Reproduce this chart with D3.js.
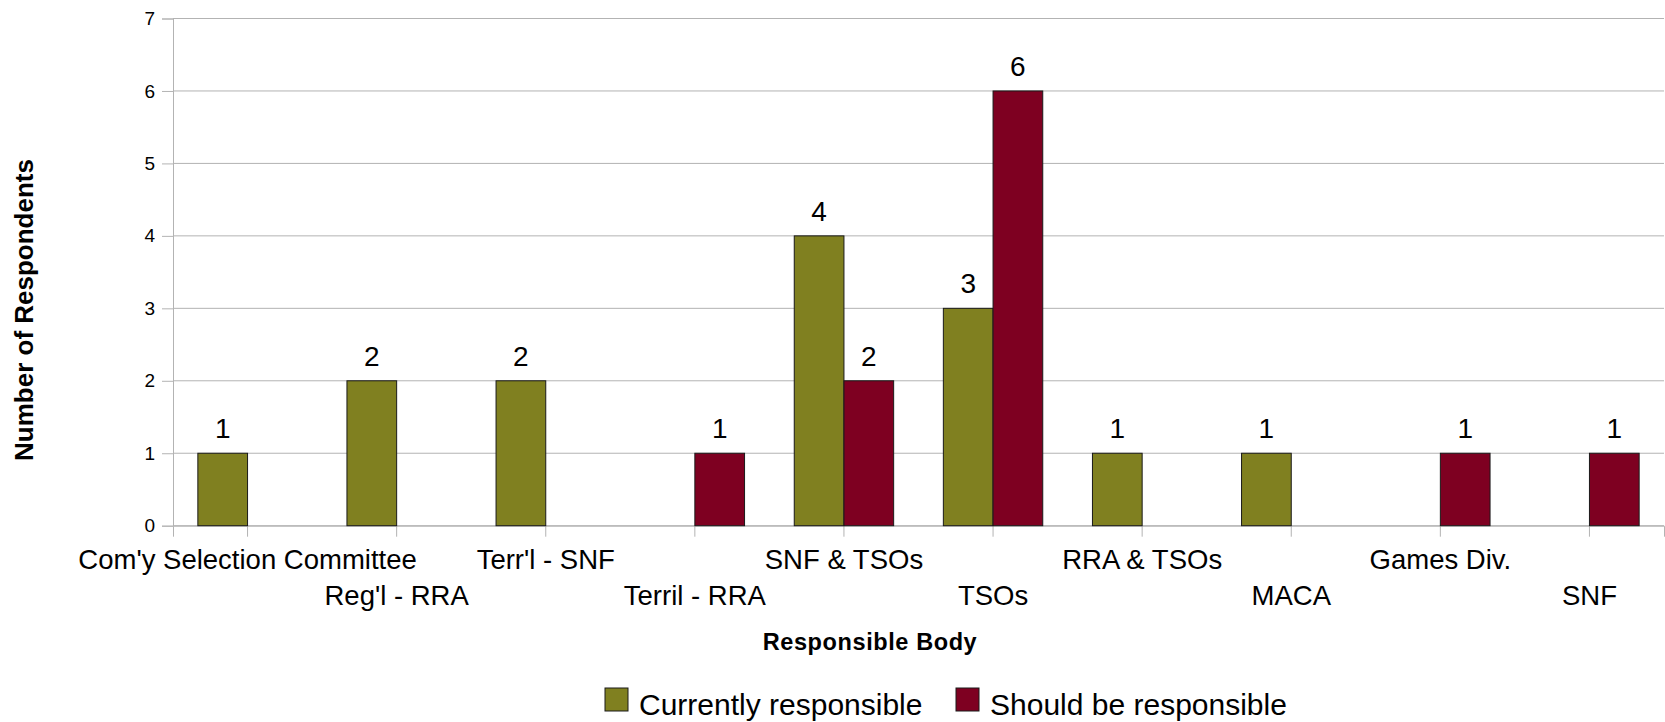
<!DOCTYPE html>
<html>
<head>
<meta charset="utf-8">
<script src="https://cdn.jsdelivr.net/npm/d3@7"></script>
<style>
  body { margin: 0; background: #fff; }
  text { font-family: "Liberation Sans", Arial, sans-serif; fill: #000; }
</style>
</head>
<body>
<div class="chart"></div>
<script>
// data
var categories = ["Com'y Selection Committee", "Reg'l - RRA", "Terr'l - SNF", "Terril - RRA",
  "SNF & TSOs", "TSOs", "RRA & TSOs", "MACA", "Games Div.", "SNF"];
var currently = [1, 2, 2, 0, 4, 3, 1, 1, 0, 0];
var shouldBe = [0, 0, 0, 1, 2, 6, 0, 0, 1, 1];
var seriesNames = ["Currently responsible", "Should be responsible"];
var seriesColors = ["#808020", "#7e0021"];
var yTicks = [0, 1, 2, 3, 4, 5, 6, 7];

var width = 1665, height = 722;
var margin = { top: 18.5, left: 173, right: 1, bottom: 196.3 };
var plotW = width - margin.left - margin.right,
  plotH = height - margin.top - margin.bottom;

var svg = d3.select(".chart").append("svg")
  .attr("width", width).attr("height", height);

var g = svg.append("g")
  .attr("transform", "translate(" + margin.left + "," + margin.top + ")");

var x0 = d3.scaleBand().domain(categories).range([0, plotW]);
var bw = x0.bandwidth();
var x1 = d3.scaleBand().domain(seriesNames).range([bw / 6, bw * 5 / 6]);
var y = d3.scaleLinear().domain([0, 7]).range([plotH, 0]);

// gridlines
g.append("g")
  .selectAll("line")
  .data(yTicks)
  .enter()
  .append("line")
  .attr("x1", 0).attr("x2", plotW)
  .attr("y1", d => y(d)).attr("y2", d => y(d))
  .attr("stroke", "#b3b3b3").attr("stroke-width", 1);

// y axis
var yAxis = g.append("g")
  .call(d3.axisLeft(y).tickValues(yTicks).tickSize(11).tickPadding(7).tickFormat(d3.format("d")));
yAxis.select(".domain").attr("stroke", "#b3b3b3");
yAxis.selectAll(".tick line").attr("stroke", "#b3b3b3");
yAxis.selectAll("text").style("font-size", "19px");

// x axis, labels in two alternating rows
var xAxis = g.append("g")
  .attr("transform", "translate(0," + plotH + ")")
  .call(d3.axisBottom(x0).tickSize(11).tickPadding(0));
xAxis.select(".domain").attr("stroke", "#b3b3b3");
xAxis.selectAll(".tick line").attr("stroke", "#b3b3b3");
xAxis.selectAll("text")
  .style("font-size", "27.5px")
  .attr("dy", null)
  .attr("y", (d, i) => i % 2 === 0 ? 43 : 79);

// bars
var rows = categories.map((c, i) => ({ cat: c, vals: [currently[i], shouldBe[i]] }));
var groups = g.append("g")
  .selectAll("g")
  .data(rows)
  .enter()
  .append("g")
  .attr("transform", d => "translate(" + x0(d.cat) + ",0)");

groups.selectAll("rect")
  .data(d => d.vals.map((v, k) => ({ name: seriesNames[k], value: v, k: k })).filter(e => e.value > 0))
  .enter()
  .append("rect")
  .attr("x", d => x1(d.name))
  .attr("width", x1.bandwidth())
  .attr("y", d => y(d.value))
  .attr("height", d => y(0) - y(d.value))
  .attr("fill", d => seriesColors[d.k])
  .attr("stroke", "#1a1a1a").attr("stroke-width", 1);

groups.selectAll("text.val")
  .data(d => d.vals.map((v, k) => ({ name: seriesNames[k], value: v })).filter(e => e.value > 0))
  .enter()
  .append("text")
  .attr("class", "val")
  .attr("x", d => x1(d.name) + x1.bandwidth() / 2)
  .attr("y", d => y(d.value) - 15)
  .attr("text-anchor", "middle")
  .style("font-size", "28px")
  .text(d => d.value);

// axis titles
svg.append("text")
  .attr("transform", "translate(33," + 310 + ") rotate(-90)")
  .attr("text-anchor", "middle")
  .style("font-size", "26px").style("font-weight", "bold")
  .text("Number of Respondents");

svg.append("text")
  .attr("x", 870).attr("y", 650)
  .attr("text-anchor", "middle")
  .style("font-size", "23.5px").style("font-weight", "bold")
  .style("letter-spacing", "0.6px")
  .text("Responsible Body");

// legend
var legendX = [605, 956];
var legend = svg.append("g")
  .selectAll("g")
  .data(seriesNames)
  .enter()
  .append("g")
  .attr("transform", (d, i) => "translate(" + legendX[i] + ",688)");
legend.append("rect")
  .attr("width", 23).attr("height", 23)
  .attr("fill", (d, i) => seriesColors[i])
  .attr("stroke", "#1a1a1a").attr("stroke-width", 1);
legend.append("text")
  .attr("x", 34).attr("y", 27)
  .style("font-size", "30px")
  .text(d => d);
</script>
</body>
</html>
